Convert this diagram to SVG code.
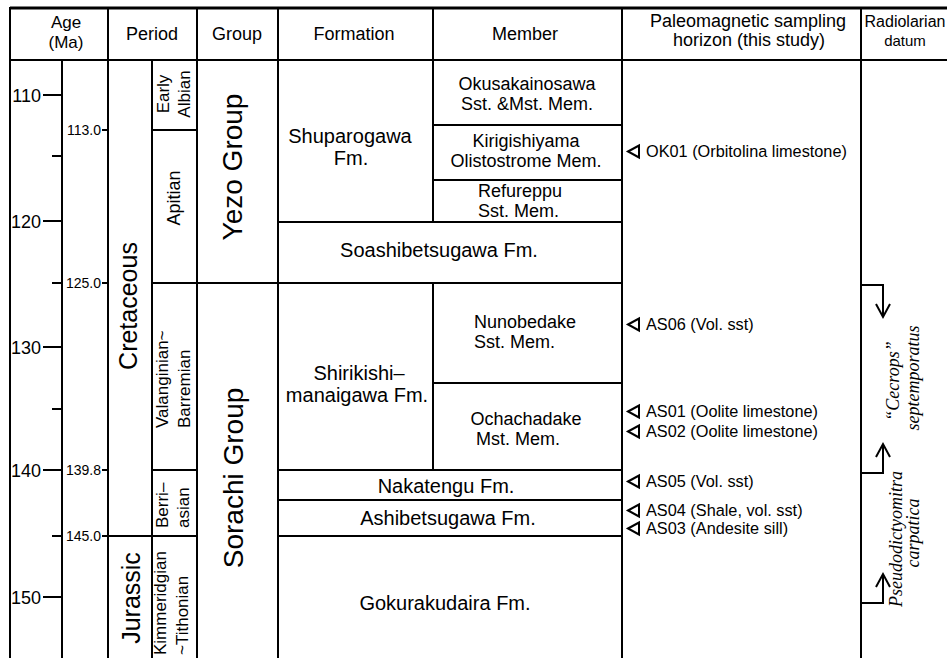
<svg xmlns="http://www.w3.org/2000/svg" width="947" height="658" viewBox="0 0 947 658">
<style>
.ln{stroke:#000;stroke-width:2;fill:none}
.t{font-family:"Liberation Sans",Arial,sans-serif;fill:#000}
.h{font-size:18px;text-anchor:middle}
.fm{font-size:20px;text-anchor:middle}
.mb{font-size:18px;text-anchor:middle}
.ms{font-size:18px}
.age{font-size:18px;text-anchor:end}
.st{font-size:14px;text-anchor:end}
.per{font-size:25px;text-anchor:middle}
.sub{font-size:17px;text-anchor:middle}
.subs{font-size:17px}
.grp{font-size:28px;text-anchor:middle}
.pm{font-size:16.3px}
.rad{font-family:"Liberation Serif","Times New Roman",serif;font-style:italic;font-size:18px;text-anchor:middle;fill:#000}
.tri{fill:none;stroke:#000;stroke-width:2;stroke-linejoin:miter}
</style>
<rect width="947" height="658" fill="#fff"/>
<g id="grid" class="ln">
<line x1="10" y1="8" x2="947" y2="8" stroke-width="3"/>
<line x1="10" y1="60" x2="947" y2="60"/>
<line x1="10" y1="7" x2="10" y2="658"/>
<line x1="62" y1="60" x2="62" y2="658"/>
<line x1="108" y1="7" x2="108" y2="658"/>
<line x1="152" y1="60" x2="152" y2="658"/>
<line x1="197" y1="7" x2="197" y2="658"/>
<line x1="278" y1="7" x2="278" y2="658"/>
<line x1="433" y1="7" x2="433" y2="222"/>
<line x1="433" y1="283" x2="433" y2="470"/>
<line x1="622" y1="7" x2="622" y2="658"/>
<line x1="861" y1="7" x2="861" y2="658"/>
<line x1="152" y1="130" x2="197" y2="130"/>
<line x1="152" y1="283" x2="622" y2="283"/>
<line x1="152" y1="470" x2="197" y2="470"/>
<line x1="278" y1="470" x2="622" y2="470"/>
<line x1="278" y1="500" x2="622" y2="500"/>
<line x1="108" y1="536" x2="197" y2="536"/>
<line x1="278" y1="536" x2="622" y2="536"/>
<line x1="433" y1="125" x2="622" y2="125"/>
<line x1="433" y1="180" x2="622" y2="180"/>
<line x1="278" y1="222" x2="622" y2="222"/>
<line x1="433" y1="383" x2="622" y2="383"/>
</g>
<g id="age-ticks" class="ln">
<line x1="43" y1="95" x2="62" y2="95"/>
<line x1="43" y1="221" x2="62" y2="221"/>
<line x1="43" y1="347" x2="62" y2="347"/>
<line x1="43" y1="470" x2="62" y2="470"/>
<line x1="43" y1="597" x2="62" y2="597"/>
<line x1="52" y1="156" x2="62" y2="156"/>
<line x1="52" y1="283" x2="62" y2="283"/>
<line x1="52" y1="409" x2="62" y2="409"/>
<line x1="52" y1="536" x2="62" y2="536"/>
<line x1="102" y1="130" x2="108" y2="130"/>
<line x1="102" y1="283" x2="108" y2="283"/>
<line x1="102" y1="470" x2="108" y2="470"/>
<line x1="102" y1="536" x2="108" y2="536"/>
</g>
<g id="header" class="t">
<text x="66" y="28" style="font-size:17px;text-anchor:middle">Age</text>
<text x="66" y="48" style="font-size:17px;text-anchor:middle">(Ma)</text>
<text class="h" x="152" y="40">Period</text>
<text class="h" x="237" y="40">Group</text>
<text class="h" x="354" y="40">Formation</text>
<text class="h" x="525" y="40">Member</text>
<text class="h" x="748" y="27">Paleomagnetic sampling</text>
<text class="h" x="749" y="46">horizon (this study)</text>
<text x="905" y="27" style="font-size:16px;text-anchor:middle">Radiolarian</text>
<text x="905" y="46" style="font-size:15px;text-anchor:middle">datum</text>
</g>
<g id="age-labels" class="t">
<text class="age" x="41" y="102">110</text>
<text class="age" x="41" y="228">120</text>
<text class="age" x="41" y="354">130</text>
<text class="age" x="41" y="477">140</text>
<text class="age" x="41" y="604">150</text>
<text class="st" x="101" y="135">113.0</text>
<text class="st" x="101" y="288">125.0</text>
<text class="st" x="101" y="475">139.8</text>
<text class="st" x="101" y="541">145.0</text>
</g>
<g id="period-cretaceous" class="t"><text class="per" transform="translate(137,306) rotate(-90)">Cretaceous</text></g>
<g id="period-jurassic" class="t"><text class="per" transform="translate(140,598) rotate(-90)">Jurassic</text></g>
<g id="stage-early-albian" class="t">
<text class="sub" transform="translate(169,94) rotate(-90)">Early</text>
<text class="sub" transform="translate(190,94) rotate(-90)">Albian</text>
</g>
<g id="stage-apitian" class="t"><text class="sub" style="font-size:18px" transform="translate(180,198) rotate(-90)">Apitian</text></g>
<g id="stage-valanginian" class="t">
<text class="subs" transform="translate(168,428) rotate(-90)">Valanginian~</text>
<text class="subs" transform="translate(190,428) rotate(-90)">Barremian</text>
</g>
<g id="stage-berriasian" class="t">
<text class="subs" transform="translate(168,528) rotate(-90)">Berri–</text>
<text class="subs" transform="translate(189,528) rotate(-90)">asian</text>
</g>
<g id="stage-kimmeridgian" class="t">
<text class="subs" transform="translate(166,655) rotate(-90)">Kimmeridgian</text>
<text class="subs" transform="translate(188,655) rotate(-90)">~Tithonian</text>
</g>
<g id="group-yezo" class="t"><text class="grp" transform="translate(242,167) rotate(-90)">Yezo Group</text></g>
<g id="group-sorachi" class="t"><text class="grp" transform="translate(243,478) rotate(-90)">Sorachi Group</text></g>
<g id="fm-shuparogawa" class="t">
<text class="fm" x="350" y="143">Shuparogawa</text>
<text class="fm" x="351" y="165">Fm.</text>
</g>
<g id="mem-okusakainosawa" class="t">
<text class="mb" x="527" y="90">Okusakainosawa</text>
<text class="mb" x="527" y="110">Sst. &amp;Mst. Mem.</text>
</g>
<g id="mem-kirigishiyama" class="t">
<text class="mb" x="526" y="147">Kirigishiyama</text>
<text class="mb" x="526" y="167">Olistostrome Mem.</text>
</g>
<g id="mem-refureppu" class="t">
<text class="ms" x="478" y="197">Refureppu</text>
<text class="ms" x="478" y="217">Sst. Mem.</text>
</g>
<g id="fm-soashibetsugawa" class="t"><text class="fm" x="439" y="257">Soashibetsugawa Fm.</text></g>
<g id="fm-shirikishimanaigawa" class="t">
<text class="fm" x="359" y="380">Shirikishi–</text>
<text class="fm" x="357" y="402">manaigawa Fm.</text>
</g>
<g id="mem-nunobedake" class="t">
<text class="ms" x="474" y="328">Nunobedake</text>
<text class="ms" x="474" y="348">Sst. Mem.</text>
</g>
<g id="mem-ochachadake" class="t">
<text class="mb" x="526" y="425">Ochachadake</text>
<text class="mb" x="518" y="445">Mst. Mem.</text>
</g>
<g id="fm-nakatengu" class="t"><text class="fm" x="446" y="493">Nakatengu Fm.</text></g>
<g id="fm-ashibetsugawa" class="t"><text class="fm" x="448" y="525">Ashibetsugawa Fm.</text></g>
<g id="fm-gokurakudaira" class="t"><text class="fm" x="445" y="610">Gokurakudaira Fm.</text></g>
<g id="samples" class="t">
<polygon class="tri" points="628,151.5 639,145.5 639,157.5"/>
<text class="pm" x="646" y="157">OK01 (Orbitolina limestone)</text>
<polygon class="tri" points="628,324.5 639,318.5 639,330.5"/>
<text class="pm" x="646" y="330">AS06 (Vol. sst)</text>
<polygon class="tri" points="628,411.5 639,405.5 639,417.5"/>
<text class="pm" x="646" y="417">AS01 (Oolite limestone)</text>
<polygon class="tri" points="628,431.5 639,425.5 639,437.5"/>
<text class="pm" x="646" y="437">AS02 (Oolite limestone)</text>
<polygon class="tri" points="628,481.5 639,475.5 639,487.5"/>
<text class="pm" x="646" y="487">AS05 (Vol. sst)</text>
<polygon class="tri" points="628,510.5 639,504.5 639,516.5"/>
<text class="pm" x="646" y="516">AS04 (Shale, vol. sst)</text>
<polygon class="tri" points="628,528.5 639,522.5 639,534.5"/>
<text class="pm" x="646" y="534">AS03 (Andesite sill)</text>
</g>
<g id="connectors" class="ln">
<path d="M861,285 H883 V316"/>
<path d="M876,304 L883,317 L890,304"/>
<path d="M861,473 H883 V444"/>
<path d="M876,457 L883,444 L890,457"/>
<path d="M861,603 H883 V574"/>
<path d="M876,587 L883,574 L890,587"/>
</g>
<g id="datum-cecrops">
<text class="rad" transform="translate(899,381) rotate(-90)">“Cecrops”</text>
<text class="rad" transform="translate(919,378) rotate(-90)">septemporatus</text>
</g>
<g id="datum-pseudodictyomitra">
<text class="rad" transform="translate(902,539) rotate(-90)">Pseudodictyomitra</text>
<text class="rad" transform="translate(919,533) rotate(-90)">carpatica</text>
</g>
</svg>
